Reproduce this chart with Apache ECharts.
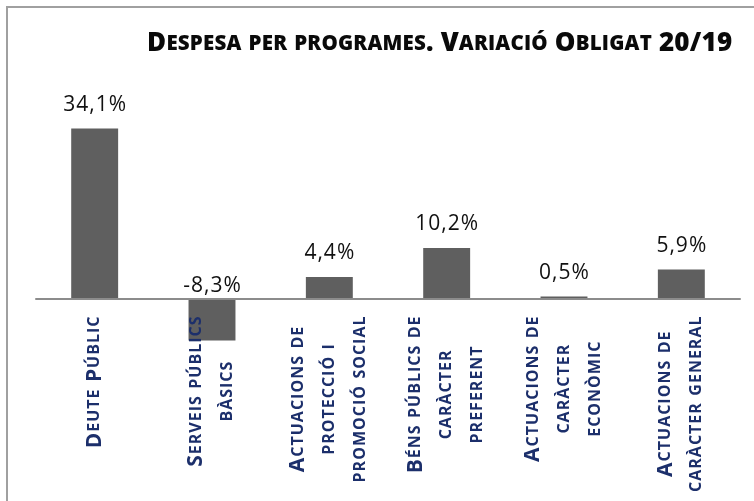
<!DOCTYPE html>
<html>
<head>
<meta charset="utf-8">
<script src="https://cdn.jsdelivr.net/npm/echarts@6/dist/echarts.min.js"></script>
<style>
  html, body { margin: 0; padding: 0; background: #fff; }
  #chart { width: 754px; height: 501px; }
</style>
</head>
<body>
<div id="chart"></div>
<script>
  // dades del gràfic
  const titleText = 'Despesa per programes. Variació Obligat 20/19';
  const categories = [
    'Deute Públic',
    'Serveis públics\nbàsics',
    'Actuacions de\nprotecció i\npromoció social',
    'Béns públics de\ncaràcter\npreferent',
    'Actuacions de\ncaràcter\neconòmic',
    'Actuacions de\ncaràcter general'
  ];
  const variacio = [34.1, -8.3, 4.4, 10.2, 0.5, 5.9];

  // versaletes: majúscules originals en gran, minúscules en petit
  // (un token per lletra, el padding fa d'espaiat entre lletres)
  function smallCaps(str) {
    return str.split('\n').map(line => {
      let out = '';
      for (const ch of line) {
        const isLower = ch !== ch.toUpperCase();
        out += isLower ? '{s|' + ch.toUpperCase() + '}' : '{b|' + ch + '}';
      }
      return out;
    }).join('\n');
  }

  function pct(v) {
    const txt = v.toFixed(1).replace('.', ',') + '%';
    return Array.from(txt).map(ch => '{v|' + ch + '}').join('');
  }

  const labelFont = { fontFamily: 'Open Sans', fontWeight: 'bold', color: '#1c2f6b', lineHeight: 31, align: 'center', padding: [0, 0.5] };
  const titleFont = { fontFamily: 'Open Sans', fontWeight: 800, color: '#0a0a0a', padding: [0, 0.1] };

  const chart = echarts.init(document.getElementById('chart'));
  chart.setOption({
    animation: false,
    backgroundColor: '#fff',
    graphic: [{
      type: 'rect',
      shape: { x: 7, y: 7, width: 800, height: 600 },
      style: { fill: 'none', stroke: '#a0a0a0', lineWidth: 2 },
      silent: true
    }],
    title: {
      text: smallCaps(titleText),
      left: 142,
      top: 26,
      textStyle: {
        rich: {
          b: Object.assign({ fontSize: 26 }, titleFont),
          s: Object.assign({ fontSize: 20.5 }, titleFont)
        }
      }
    },
    grid: { left: 36, right: 14, top: 99, bottom: 152, outerBoundsMode: 'none' },
    xAxis: {
      type: 'category',
      data: categories,
      z: 5,
      axisLine: { onZero: true, lineStyle: { color: '#8c8c8c', width: 2 } },
      axisTick: { show: false },
      axisLabel: {
        interval: 0,
        rotate: 90,
        margin: -33,
        formatter: v => smallCaps(v),
        rich: {
          b: Object.assign({ fontSize: 21 }, labelFont),
          s: Object.assign({ fontSize: 16 }, labelFont)
        }
      }
    },
    yAxis: {
      type: 'value',
      min: -10,
      max: 40,
      show: false,
      splitLine: { show: false }
    },
    series: [{
      type: 'bar',
      barWidth: '40%',
      itemStyle: { color: '#5f5f5f' },
      data: variacio.map(v => ({
        value: v,
        label: { distance: v < 0 ? 2 : 13 }
      })),
      label: {
        show: true,
        position: 'top',
        formatter: p => pct(p.value),
        rich: {
          v: { fontFamily: 'Open Sans', fontSize: 21, color: '#111', padding: [0, 0.5] }
        }
      }
    }]
  });
</script>
</body>
</html>
